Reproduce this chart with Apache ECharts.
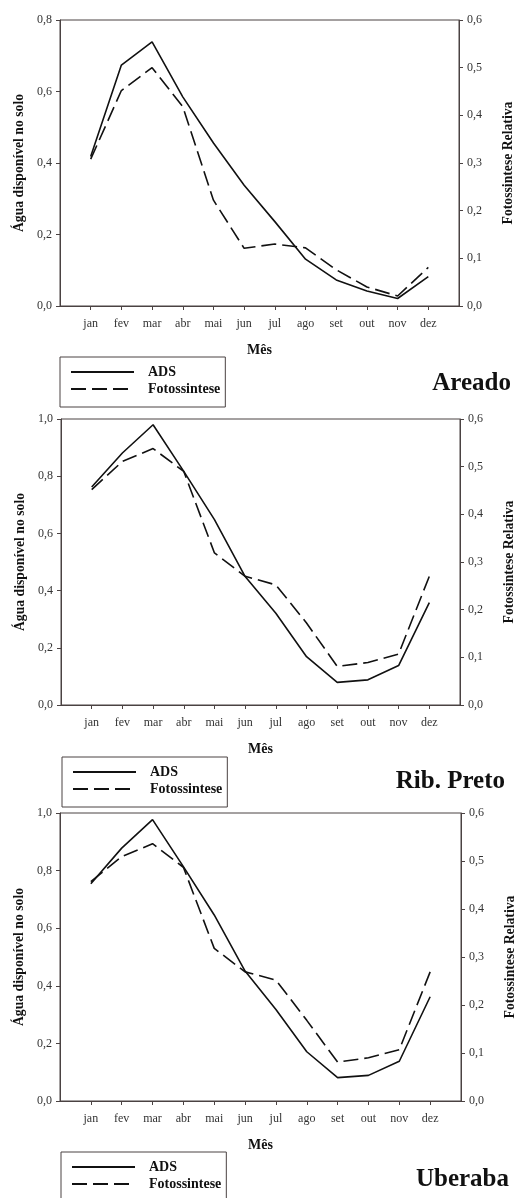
<!DOCTYPE html>
<html>
<head>
<meta charset="utf-8">
<script src="https://cdn.jsdelivr.net/npm/echarts@6/dist/echarts.min.js"></script>
<style>
  html, body { margin: 0; padding: 0; background: #fff; }
  #chart { width: 516px; height: 1198px; }
</style>
</head>
<body>
<div id="chart"></div>
<script>
// Months on the x axis
const months = ['jan', 'fev', 'mar', 'abr', 'mai', 'jun', 'jul', 'ago', 'set', 'out', 'nov', 'dez'];

// Água disponível no solo (ADS) and relative photosynthesis per site
const adsAreado  = [0.418, 0.674, 0.739, 0.585, 0.456, 0.338, 0.236, 0.131, 0.073, 0.042, 0.021, 0.082];
const fotoAreado = [0.308, 0.452, 0.500, 0.418, 0.222, 0.121, 0.130, 0.122, 0.076, 0.040, 0.021, 0.081];

const adsRibPreto  = [0.762, 0.881, 0.980, 0.817, 0.648, 0.449, 0.321, 0.169, 0.079, 0.088, 0.138, 0.358];
const fotoRibPreto = [0.452, 0.511, 0.538, 0.490, 0.319, 0.270, 0.252, 0.172, 0.081, 0.089, 0.107, 0.270];

const adsUberaba  = [0.754, 0.878, 0.977, 0.814, 0.646, 0.451, 0.318, 0.171, 0.081, 0.089, 0.138, 0.362];
const fotoUberaba = [0.457, 0.509, 0.536, 0.487, 0.318, 0.269, 0.252, 0.168, 0.081, 0.090, 0.107, 0.269];

// Axis ranges
const leftMax  = [0.8, 1.0, 1.0];
const rightMax = [0.6, 0.6, 0.6];
const siteNames = ['Areado', 'Rib. Preto', 'Uberaba'];

const leftName  = 'Água disponível no solo';
const rightName = 'Fotossintese Relativa';
const xName     = 'Mês';

const siteData = [
  [adsAreado, fotoAreado],
  [adsRibPreto, fotoRibPreto],
  [adsUberaba, fotoUberaba]
];

// Panel layout (pixels)
const layout = [
  { grid: { left: 60, top: 20,  width: 399, height: 286 }, legend: { left: 60, top: 357 },  title: { right: 5,  top: 371 } },
  { grid: { left: 61, top: 419, width: 399, height: 286 }, legend: { left: 62, top: 757 },  title: { right: 11, top: 769 } },
  { grid: { left: 60, top: 813, width: 401, height: 288 }, legend: { left: 61, top: 1152 }, title: { right: 7,  top: 1167 } }
];

const FONT = 'Liberation Serif';
const AXIS = '#4a4242';
const comma = v => v.toFixed(1).replace('.', ',');
const monthIdx = months.map((m, i) => i + 1);
const DASH = [15, 6];

const grids = [], xAxes = [], yAxes = [], series = [], legends = [], titles = [];

layout.forEach((L, p) => {
  grids.push(Object.assign({
    show: true, borderColor: AXIS, borderWidth: 1, backgroundColor: '#fff',
    containLabel: false, outerBoundsMode: 'none'
  }, L.grid));

  xAxes.push({
    type: 'value', gridIndex: p, min: 0, max: 13, interval: 1,
    name: xName, nameLocation: 'middle', nameGap: 37,
    nameTextStyle: { fontFamily: FONT, fontWeight: 'bold', fontSize: 14, color: '#111' },
    axisLine: { show: true, onZero: false, lineStyle: { color: AXIS, width: 1 } },
    axisTick: { show: true, inside: false, length: 4, customValues: monthIdx, lineStyle: { color: AXIS } },
    axisLabel: {
      customValues: monthIdx, margin: 12,
      fontFamily: FONT, fontSize: 12, color: '#333',
      formatter: v => months[v - 1] || ''
    },
    splitLine: { show: false }
  });

  yAxes.push({
    type: 'value', gridIndex: p, position: 'left', min: 0, max: leftMax[p], interval: 0.2,
    name: leftName, nameLocation: 'middle', nameRotate: 90, nameGap: 30,
    nameTextStyle: { fontFamily: FONT, fontWeight: 'bold', fontSize: 13.7, color: '#111' },
    axisLine: { show: true, lineStyle: { color: AXIS, width: 1 } },
    axisTick: { show: true, inside: false, length: 4, lineStyle: { color: AXIS } },
    axisLabel: { margin: 8, fontFamily: FONT, fontSize: 12, color: '#333', formatter: comma },
    splitLine: { show: false }
  });

  yAxes.push({
    type: 'value', gridIndex: p, position: 'right', min: 0, max: rightMax[p], interval: 0.1,
    name: rightName, nameLocation: 'middle', nameRotate: 90, nameGap: 42,
    nameTextStyle: { fontFamily: FONT, fontWeight: 'bold', fontSize: 13.7, color: '#111' },
    axisLine: { show: true, lineStyle: { color: AXIS, width: 1 } },
    axisTick: { show: true, inside: false, length: 4, lineStyle: { color: AXIS } },
    axisLabel: { margin: 8, fontFamily: FONT, fontSize: 12, color: '#333', formatter: comma },
    splitLine: { show: false }
  });

  const [ads, foto] = siteData[p];
  series.push({
    name: 'ADS', type: 'line', xAxisIndex: p, yAxisIndex: 2 * p,
    data: ads.map((v, i) => [i + 1, v]),
    symbol: 'none', silent: true,
    itemStyle: { color: '#111' },
    lineStyle: { color: '#111', width: 1.6, type: 'solid' }
  });
  series.push({
    name: 'Fotossintese', type: 'line', xAxisIndex: p, yAxisIndex: 2 * p + 1,
    data: foto.map((v, i) => [i + 1, v]),
    symbol: 'none', silent: true,
    itemStyle: { color: '#111' },
    lineStyle: { color: '#111', width: 1.6, type: DASH }
  });

  legends.push({
    data: ['ADS', 'Fotossintese'], orient: 'vertical',
    left: L.legend.left, top: L.legend.top, height: 40,
    itemWidth: 63, itemHeight: 14, itemGap: 3,
    padding: [8, 5, 11, 10],
    borderColor: AXIS, borderWidth: 1, backgroundColor: '#fff',
    selectedMode: false,
    itemStyle: { opacity: 0 },
    textStyle: { fontFamily: FONT, fontWeight: 'bold', fontSize: 14, color: '#111', lineHeight: 14, padding: [0, 0, 0, 9] }
  });

  titles.push({
    text: siteNames[p], right: L.title.right, top: L.title.top, padding: 0,
    textStyle: { fontFamily: FONT, fontWeight: 'bold', fontSize: 25, color: '#111' }
  });
});

const chart = echarts.init(document.getElementById('chart'), null, { renderer: 'canvas' });
chart.setOption({
  animation: false,
  backgroundColor: '#fff',
  title: titles,
  legend: legends,
  grid: grids,
  xAxis: xAxes,
  yAxis: yAxes,
  series: series
});
</script>
</body>
</html>
